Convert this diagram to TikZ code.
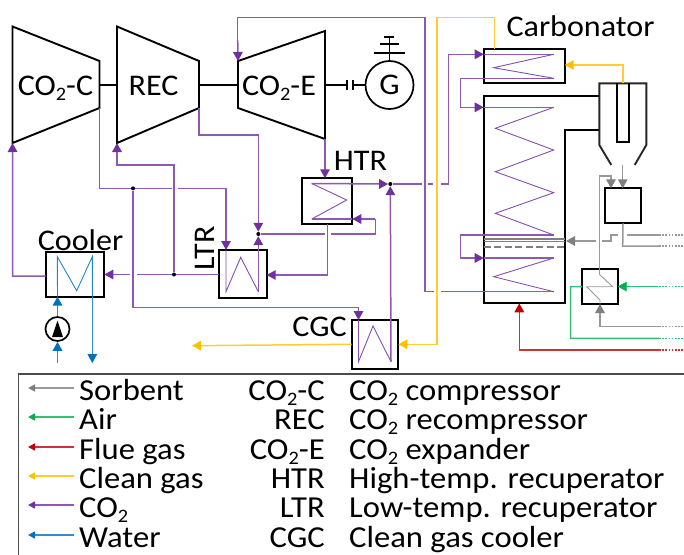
\documentclass[tikz,border=0pt]{standalone}
\usepackage{fontspec}
\setmainfont[FakeStretch=1.07]{Carlito}
\usetikzlibrary{arrows.meta,calc}
\definecolor{cotwo}{RGB}{112,48,160}
\definecolor{water}{RGB}{0,112,192}
\definecolor{airgreen}{RGB}{0,176,80}
\definecolor{fluered}{RGB}{192,0,0}
\definecolor{cleangas}{RGB}{255,192,0}
\definecolor{sorbent}{RGB}{127,127,127}
\newcommand{\sub}{{\fontsize{19}{19}\selectfont\raisebox{-5.5pt}{2}}}
\newcommand{\cotw}{CO\sub}
\tikzset{
  mach/.style={draw=black,line width=1.9pt,line join=miter},
  hxbox/.style={draw=black,line width=2pt,inner sep=0pt,outer sep=0pt},
  lab/.style={font=\fontsize{30}{30}\selectfont,inner sep=0pt,anchor=base},
  leg/.style={font=\fontsize{30.5}{30.5}\selectfont,inner sep=0pt},
  jdot/.style={circle,fill=black,inner sep=0pt,minimum size=4pt},
  flow/.style={draw=#1!80!white,line width=1.5pt},
  flowarrow/.style={flow=#1,-{Triangle[length=9pt,width=9.5pt,color=#1]}},
  coil/.style={draw=#1!85!white,line width=0.9pt,line join=miter},
  dots/.style={flow=#1,dash pattern=on 1.6pt off 1.6pt},
}
\begin{document}
\begin{tikzpicture}[x=1pt,y=-1pt]
  \useasboundingbox (0,0) rectangle (684,554);
  %% turbomachines
  \draw[mach] (12.5,26.5) -- (99.5,61) -- (99.5,108) -- (12.5,143) -- cycle;
  \draw[mach] (117,26.5) -- (199,61) -- (199,108) -- (117,143) -- cycle;
  \draw[mach] (238,61) -- (325,31) -- (325,139) -- (238,108) -- cycle;
  \coordinate (compin) at (12.5,143);
  \coordinate (compout) at (99.5,108);
  \coordinate (recin) at (117,143);
  \coordinate (recout) at (199,108);
  \coordinate (expin) at (238,61);
  \coordinate (expout) at (325,139);
  \node[lab] (compl) at (55.5,95) {\cotw-C};
  \node[lab] (recl) at (153.5,95) {REC};
  \node[lab] (expl) at (279,95) {\cotw-E};
  %% shaft and generator
  \node[circle,draw=black,line width=1.7pt,minimum size=48pt,inner sep=0pt] (gen) at (389.5,85) {};
  \node[lab] (genl) at (389.5,94) {G};
  \draw[mach] (99.5,85) -- (117,85) (199,85) -- (238,85) (325,85) -- (347,85);
  \draw[mach] (353,85) -- (gen.west);
  \draw[mach] (347,80) -- (347,90) (353,80) -- (353,90);
  \draw[mach] (gen.north) -- (389.5,37);
  \draw[mach] (374,53) -- (405,53) (380,44) -- (399,44) (384,37) -- (394,37);
  %% exchangers
  \node[hxbox,minimum width=50pt,minimum height=46pt] (htr) at (327.3,201.3) {};
  \node[hxbox,minimum width=47.4pt,minimum height=48.3pt] (ltr) at (243,274.2) {};
  \node[hxbox,minimum width=46.6pt,minimum height=49.3pt] (cgc) at (375,344.7) {};
  \node[hxbox,minimum width=58.6pt,minimum height=45pt] (cooler) at (75,274.2) {};
  \node[hxbox,minimum width=81pt,minimum height=34.6pt] (top) at (524.2,66) {};
  \node[hxbox,minimum width=35.4pt,minimum height=35pt] (silo) at (623,205.8) {};
  \node[hxbox,minimum width=35.4pt,minimum height=35pt] (airhx) at (600,286.5) {};
  \node[lab] (htrl) at (360.5,170) {HTR};
  \node[lab] (coolerl) at (80.5,250) {Cooler};
  \node[lab,rotate=90,anchor=base] (ltrl) at (214.5,248.5) {LTR};
  \node[lab] (cgcl) at (319.5,336) {CGC};
  \node[lab] (carbl) at (580.5,36) {Carbonator};
  %% carbonator and cyclone
  \draw[mach] (599.3,95.7) -- (483.7,95.7) -- (483.7,303.3) -- (564.7,303.3) -- (564.7,130) -- (599.3,130);
  \draw[mach,black!85] (611.3,165) -- (599.3,145) -- (599.3,83.3) -- (646.3,83.3) -- (646.3,145) -- (634.7,165);
  \draw[mach] (617.3,83.3) -- (617.3,141.7) -- (629,141.7) -- (629,83.3);
  \draw[sorbent,line width=1.1pt] (483.7,239) -- (564.7,239) (483.7,241.7) -- (564.7,241.7);
  \draw[sorbent,line width=1.6pt,dash pattern=on 7pt off 3.5pt] (483.7,246.7) -- (564.7,246.7);
  %% junctions
  \node[jdot] (jmix) at (258.3,234) {};
  \node[jdot] (jhtr) at (390.3,184) {};
  \node[jdot] (jsplit) at (133,188.3) {};
  \node[jdot] (jrec) at (174,274.5) {};
  %% CO2 loop
  \draw[flowarrow=cotwo] (cooler.west |- 0,276) -- (12.7,276) -- (compin);
  \draw[flow=cotwo] (compout) -- (99.5,188.3) -- (jsplit) -- (171.7,188.3);
  \draw[flowarrow=cotwo] (178.3,188.3) -- (226,188.3) -- (226,250);
  \draw[flowarrow=cotwo] (jrec) -- (174,165) -- (117,165) -- (recin);
  \draw[flowarrow=cotwo] (recout) -- (199,135) -- (258.3,135) -- (jmix.north);
  \draw[flowarrow=cotwo] (258.3,291.7) -- (jmix.south);
  \draw[flow=cotwo] (jmix) -- (324.5,234) (331,234) -- (375.3,234) -- (375.3,219);
  \draw[flowarrow=cotwo] (375.3,219) -- (htr.east |- 0,219);
  \draw[flow=cotwo] (htr.east |- 0,219) -- (311.7,219);
  \draw[flowarrow=cotwo] (expout) -- (htr.north -| expout);
  \draw[flowarrow=cotwo] (327.7,224.3) -- (327.7,275) -- (ltr.east |- 0,275);
  \draw[flow=cotwo] (ltr.west |- jrec) -- (jrec) -- (136.7,274.5);
  \draw[flowarrow=cotwo] (130,274.5) -- (cooler.east |- jrec);
  \draw[flowarrow=cotwo] (jsplit) -- (133,307.7) -- (358.5,307.7) -- (358.5,320);
  \draw[flowarrow=cotwo] (391,361.7) -- (jhtr.south);
  \draw[flowarrow=cotwo] (311.7,183.5) -- (jhtr.west);
  \draw[flow=cotwo] (jhtr) -- (421.7,184) (428,184) -- (433,184) (441,184) -- (448.7,184) -- (448.7,54.3) -- (470,54.3);
  \draw[flowarrow=cotwo] (470,54.3) -- (top.west |- 0,54.3);
  \draw[flow=cotwo] (top.west |- 0,54.3) -- (553.7,54.3);
  \draw[flow=cotwo] (553.7,78.3) -- (460.3,78.3) -- (460.3,107.3) -- (470,107.3);
  \draw[flowarrow=cotwo] (470,107.3) -- (483.7,107.3);
  \draw[flow=cotwo] (483.7,107.3) -- (553.7,107.3);
  \draw[flow=cotwo] (553.7,235) -- (460.3,235) -- (460.3,258) -- (470,258);
  \draw[flowarrow=cotwo] (470,258) -- (483.7,258);
  \draw[flow=cotwo] (483.7,258) -- (553.7,258);
  \draw[flow=cotwo] (553.7,291.7) -- (441,291.7) (433.7,291.7) -- (425,291.7) -- (425,17.5) -- (237.7,17.5) -- (237.7,40);
  \draw[flowarrow=cotwo] (237.7,40) -- (expin);
  %% coils
  \draw[coil=cotwo] (311.7,183.5) -- (346.7,200) -- (311.7,219);
  \draw[coil=cotwo] (226,250) -- (226,291.7) -- (240.7,257.3) -- (258.3,291.7);
  \draw[coil=cotwo] (358.5,320) -- (358.5,361.7) -- (373,326) -- (391,361.7);
  \draw[coil=cotwo] (553.7,54.3) -- (493.7,67.7) -- (553.7,78.3);
  \draw[coil=cotwo] (553.7,107.3) -- (495.3,128.3) -- (553.7,150) -- (495.3,171.7) -- (553.7,192.7) -- (495.3,213.3) -- (553.7,235);
  \draw[coil=cotwo] (553.7,258) -- (493.7,276.7) -- (553.7,291.7);
  \draw[coil=water] (57.5,296.7) -- (57.3,256.7) -- (76.7,290.7) -- (92.3,256.7) -- (92.3,296.7);
  %% water and pump
  \node[circle,draw=black,line width=1.7pt,minimum size=24pt,inner sep=0pt] (pump) at (57.5,329) {};
  \fill[black] (57.5,320.5) -- (63,337) -- (52,337) -- cycle;
  \coordinate (waterin) at (57.5,363);
  \coordinate (waterout) at (92.3,363);
  \draw[flowarrow=water] (waterin) -- (pump.south);
  \draw[flowarrow=water] (pump.north) -- (cooler.south -| pump);
  \draw[flowarrow=water] (cooler.south -| waterout) -- (waterout);
  %% clean gas
  \draw[flowarrow=cleangas] (494.7,48.7) -- (494.7,17.5) -- (437,17.5) -- (437,344.3) -- (cgc.east |- 0,344.3);
  \draw[flowarrow=cleangas] (cgc.west |- 0,344.3) -- (192,345.7);
  \draw[flowarrow=cleangas] (623,83.3) -- (623,65) -- (top.east |- 0,65);
  %% sorbent
  \draw[flowarrow=sorbent] (622.7,165) -- (silo.north -| 622.7,0);
  \draw[flowarrow=sorbent] (599.3,274.3) -- (599.3,176) -- (611,176) -- (silo.north -| 611,0);
  \draw[flow=sorbent,line width=0.9pt] (599.3,274.3) -- (612.7,286.7) -- (586.7,286.7) -- (600,300) -- (600,304);
  \draw[flowarrow=sorbent] (596,241) -- (566,241);
  \draw[flow=sorbent] (601.7,241) -- (611,241) -- (611,235) -- (618.3,235) (626.7,235) -- (659,235);
  \draw[dots=sorbent] (659,235) -- (684,235);
  \draw[flow=sorbent] (silo.south) -- (622.7,246) -- (659,246);
  \draw[dots=sorbent] (659,246) -- (684,246);
  \draw[flowarrow=sorbent] (659,326.7) -- (600,326.7) -- (600,304);
  \draw[dots=sorbent] (659,326.7) -- (684,326.7);
  %% air and flue gas
  \draw[flowarrow=airgreen,line width=0.9pt] (659,286.7) -- (airhx.east);
  \draw[dots=airgreen,line width=0.9pt] (659,286.7) -- (684,286.7);
  \draw[flow=airgreen] (airhx.west) -- (570.7,286.7) -- (570.7,338.3) -- (659,338.3);
  \draw[dots=airgreen] (659,338.3) -- (684,338.3);
  \draw[flowarrow=fluered] (659,350) -- (519.3,350) -- (519.3,303.3);
  \draw[dots=fluered] (659,350) -- (684,350);
  %% legend
  \draw[black!70,line width=1.2pt] (18.5,560) -- (18.5,374) -- (690,374);
  \foreach \y/\c/\t/\a/\b in {
      388/sorbent/Sorbent/\cotw-C/\cotw{} compressor,
      417/airgreen/Air/REC/\cotw{} recompressor,
      447/fluered/Flue gas/\cotw-E/\cotw{} expander,
      476/cleangas/Clean gas/HTR/High-temp. recuperator,
      505/cotwo/\cotw/LTR/Low-temp. recuperator,
      535/water/Water/CGC/Clean gas cooler}{
    \coordinate (s\y) at (74,\y);
    \coordinate (e\y) at (28,\y);
    \draw[flow=\c,-{Triangle[length=7pt,width=7pt,color=\c]}] (s\y) -- (e\y);
    \node[leg,anchor=base west] (n\y) at (79,\y+12) {\t};
    \node[leg,anchor=base east] (k\y) at (325,\y+12) {\a};
    \node[leg,anchor=base west] (d\y) at (349,\y+12) {\b};
  }
\end{tikzpicture}
\end{document}
